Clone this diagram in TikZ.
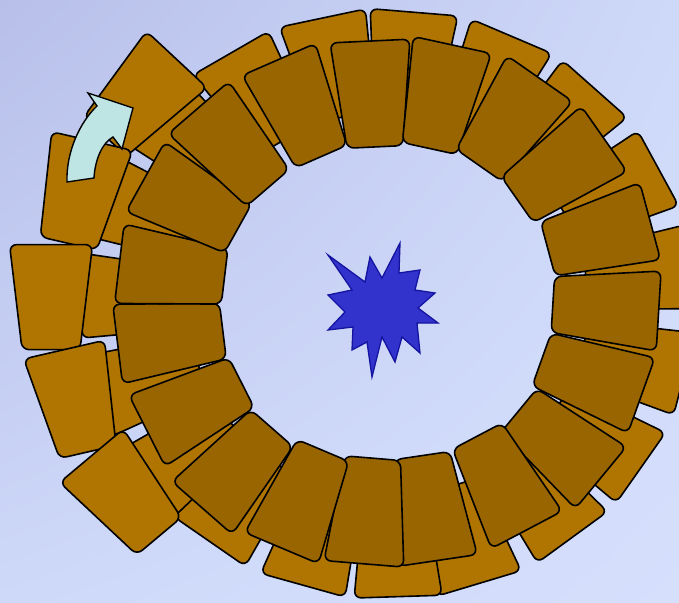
\documentclass[tikz,border=0pt]{standalone}
\usetikzlibrary{shadings}
\begin{document}
\begin{tikzpicture}[x=1pt,y=1pt,
  lightcard/.style={fill=lightbrown,draw=black,line width=1.6pt,rounded corners=7pt},
  darkcard/.style={fill=darkbrown,draw=black,line width=1.6pt,rounded corners=7pt},
  arrowshape/.style={fill=arrowcyan,draw=black,line width=1.4pt,line join=miter},
  starshape/.style={fill=starblue,draw=starline,line width=1.3pt,line join=miter}]
\definecolor{lightbrown}{RGB}{176,116,0}
\definecolor{darkbrown}{RGB}{153,101,0}
\definecolor{arrowcyan}{RGB}{190,228,228}
\definecolor{starblue}{RGB}{50,50,204}
\definecolor{starline}{RGB}{20,20,160}
\definecolor{bgA}{RGB}{184,192,234}
\definecolor{bgB}{RGB}{206,216,248}
\definecolor{bgC}{RGB}{214,224,253}
% background
\useasboundingbox (-388,-299) rectangle (291,303);
\shade[upper left=bgA,upper right=bgB,lower left=bgB,lower right=bgC] (-388,-299) rectangle (291,303);
% main light ring
\begin{scope}[shift={(0,-1)},yscale=0.96]
\foreach \t in {121.0,102.4,85.1,66.1,47.3,27.6,7.3,-13.8,-34,-52.8,-72.6,-88.1,-106.2,-125.8,-142.2,-161.7,178.4,158.6,139.2}{
  \begin{scope}[shift={(\t:252.5)},rotate=\t]
    \path[lightcard] (52.5,-44) -- (52.5,44) -- (-52.5,31) -- (-52.5,-31) -- cycle;
  \end{scope}}
\end{scope}
% outer left cards
\foreach \r/\t/\o in {321/140.3/47,327/160.2/77,337/179/90,327/197.4/103,326/216.3/130}{
  \begin{scope}[shift={(\t:\r)},rotate=\o]
    \path[lightcard] (52.5,-41.5) -- (52.5,41.5) -- (-52.5,29) -- (-52.5,-29) -- cycle;
  \end{scope}}
% dark ring
\foreach \x/\y/\a in {-15.5/209/92.7, 53/206.25/77.7, 121.5/181/55.05, 172.75/133.75/35.0,
  211/68/15.1, 217.75/-4.75/-3.5, 203.5/-74.5/-19.7, 172/-141/-39.5, 114/-180/-62.2,
  42/-205/-81.6, -19.75/-208/-94.7, -85.75/-196.25/-112.9, -151/-165/-131.2,
  -193.75/-103.75/-153.1, -217.75/-34.5/-173.0, -216/33/173.2, -196.25/100.5/150.9,
  -154.75/155.25/130.75, -88/195/113.6}{
  \begin{scope}[shift={(\x,\y)},rotate=\a]
    \path[darkcard] (53,-40) -- (53,40) -- (-53,28) -- (-53,-28) -- cycle;
  \end{scope}}
% arrow
\path[arrowshape] (-321,121) -- (-294,125)
  .. controls (-293,143) and (-286,160) .. (-275,166)
  -- (-266,154) -- (-255,195) -- (-300,210) -- (-291,197)
  .. controls (-308,181) and (-322,151) .. (-321,121) -- cycle;
% star
\path[starshape] (-60,48) -- (-23,21) -- (-18,46) -- (-6,25) -- (12,60) -- (11,30)
  -- (32,33) -- (27,13) -- (47,10) -- (30,-5) -- (50,-20) -- (29,-20)
  -- (32,-50) -- (14,-34) -- (7,-59) -- (-6,-34) -- (-16,-74) -- (-21,-39)
  -- (-36,-47) -- (-35,-24) -- (-60,-27) -- (-43,-9) -- (-60,8) -- (-36,13) -- cycle;
\end{tikzpicture}
\end{document}
